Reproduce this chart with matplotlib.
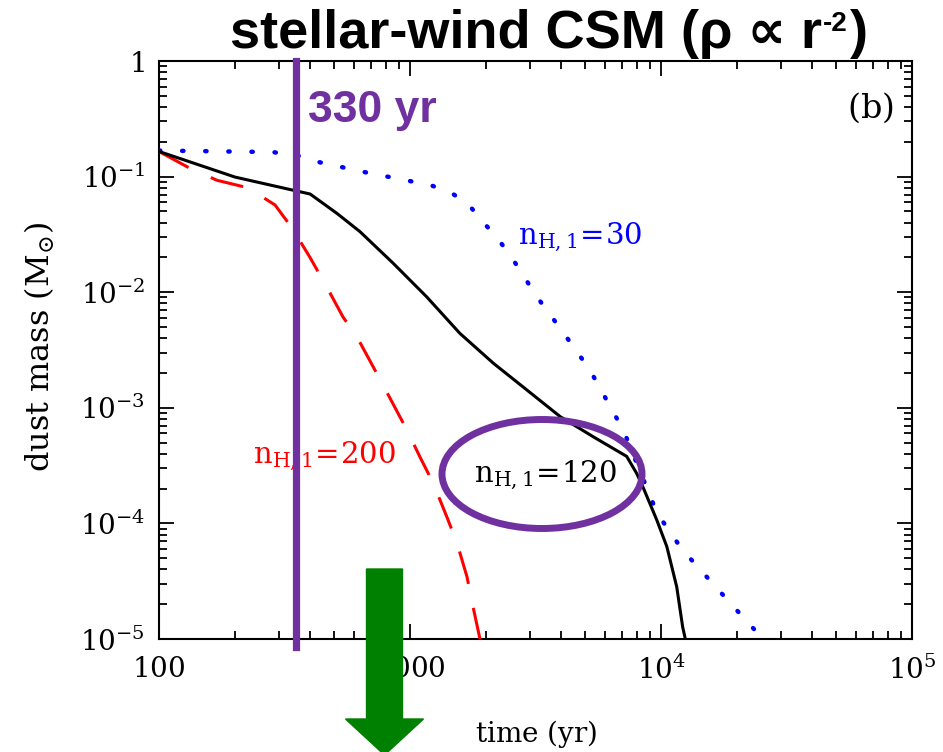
import matplotlib
matplotlib.use("Agg")
import matplotlib.pyplot as plt
from matplotlib.patches import Ellipse, FancyArrow
from matplotlib.ticker import LogLocator, NullFormatter

plt.rcParams['mathtext.fontset'] = 'dejavuserif'
plt.rcParams['font.family'] = ['DejaVu Serif']

# --- data (time in yr, dust mass in Msun) ---
t_30 = [100, 284, 361, 430, 650, 1203, 1443, 1703, 1955, 2244, 2549, 3206, 4073,
        5212, 7079, 9640, 12100, 16000, 21200, 25500]
m_30 = [0.168, 0.163, 0.151, 0.134, 0.11, 0.0845, 0.0736, 0.058, 0.0405, 0.0288,
        0.0198, 0.0091, 0.0045, 0.00212, 6.4e-4, 1.23e-4, 6.0e-5, 3.05e-5, 1.55e-5, 1.0e-5]

t_120 = [100, 201, 339, 400, 512, 632, 857, 1164, 1581, 2148, 2917, 3963, 5383,
         7298, 7998, 8470, 9620, 10550, 11550, 12200, 12500]
m_120 = [0.165, 0.099, 0.0766, 0.0707, 0.048, 0.0334, 0.0178, 0.00914, 0.0044,
         0.00243, 0.00143, 8.4e-4, 5.6e-4, 3.8e-4, 2.71e-4, 2.07e-4, 1.07e-4, 6.3e-5,
         2.83e-5, 1.27e-5, 1.0e-5]

t_200 = [100, 130, 170, 226, 290, 339, 400, 467, 541, 615, 773, 973, 1096, 1236,
         1404, 1538, 1687, 1783, 1900]
m_200 = [0.165, 0.121, 0.093, 0.080, 0.0568, 0.0359, 0.0199, 0.011, 0.0061, 0.0041,
         0.00164, 6.4e-4, 3.75e-4, 2.24e-4, 1.13e-4, 6.8e-5, 3.45e-5, 1.9e-5, 1.0e-5]

t_mark = 350          # "330 yr" line
x_ticks = [1e2, 1e3, 1e4, 1e5]
x_labels = [r'$100$', r'$1000$', r'$10^4$', r'$10^5$']
y_ticks = [1e-5, 1e-4, 1e-3, 1e-2, 1e-1, 1]
y_labels = [r'$10^{-5}$', r'$10^{-4}$', r'$10^{-3}$', r'$10^{-2}$', r'$10^{-1}$', r'$1$']

PURPLE = '#7030A0'
GREEN = '#008000'
W, H = 943, 752

fig = plt.figure(figsize=(W / 100, H / 100), dpi=100)
ax = fig.add_axes([159 / W, 1 - 639 / H, (912 - 159) / W, (639 - 61) / H])

ax.plot(t_30, m_30, color='blue', lw=3.2, linestyle=(0, (0.3, 4.9)),
        dash_capstyle='round', zorder=3)
ax.plot(t_200, m_200, color='red', lw=2.2, linestyle=(0, (11, 8)), zorder=3)
ax.plot(t_120, m_120, color='black', lw=2.2, zorder=4)

ax.set_xscale('log')
ax.set_yscale('log')
ax.set_xlim(1e2, 1e5)
ax.set_ylim(1e-5, 1)
ax.set_xticks(x_ticks, x_labels)
ax.set_yticks(y_ticks, y_labels)
ax.xaxis.set_minor_locator(LogLocator(subs=range(2, 10)))
ax.yaxis.set_minor_locator(LogLocator(subs=range(2, 10)))
ax.xaxis.set_minor_formatter(NullFormatter())
ax.yaxis.set_minor_formatter(NullFormatter())
ax.tick_params(which='both', direction='in', top=True, right=True, width=1.3,
               labelsize=20)
ax.tick_params(which='major', length=11)
ax.tick_params(which='minor', length=6)
ax.tick_params(axis='x', pad=12)
ax.tick_params(axis='y', pad=10)
for s in ax.spines.values():
    s.set_linewidth(1.5)

ax.set_xlabel(r'$\mathrm{time\ (yr)}$', fontsize=20)
ax.set_ylabel(r'$\mathrm{dust\ mass\ (M_{\odot})}$', fontsize=23)
ax.xaxis.set_label_coords(0.5, -0.137)
ax.yaxis.set_label_coords(-0.136, 0.505)

ax.text(0.975, 0.92, r'$\mathrm{(b)}$', transform=ax.transAxes, ha='right',
        va='center', fontsize=24)
ax.text(2692, 0.0261, r'$\mathrm{n_{H,1}\!=\!30}$', color='blue', fontsize=21,
        va='baseline')
ax.text(237, 3.33e-4, r'$\mathrm{n_{H,1}\!=\!200}$', color='red', fontsize=21,
        va='baseline')
ax.text(1800, 2.28e-4, r'$\mathrm{n_{H,1}\!=\!120}$', color='black', fontsize=21,
        va='baseline', zorder=6)

# purple marker line at 330 yr
ax.axvline(t_mark, ymin=-0.014, ymax=1, color=PURPLE, lw=5.2, clip_on=False, zorder=5)
fig.text(308 / W, 1 - 122 / H, '330 yr', color=PURPLE, fontsize=32, weight='bold',
         family=['Liberation Sans', 'DejaVu Sans'], va='baseline')

# ellipse around the n=120 label
fig.add_artist(Ellipse((5.42, (H - 474) / 100), 2.0, 1.09, transform=fig.dpi_scale_trans,
                       fill=False, ec=PURPLE, lw=5, zorder=7))

# green arrow
fig.add_artist(FancyArrow(3.845, (H - 569) / 100, 0, -(H - 569) / 100 - 0.03,
                          width=0.36, head_width=0.78, head_length=0.36,
                          length_includes_head=True, color=GREEN,
                          transform=fig.dpi_scale_trans, zorder=8))

# title, with superscript set by hand
tfont = dict(weight='bold', family=['Liberation Sans', 'DejaVu Sans'], va='baseline')
fig.text(822 / W, 1 - 48 / H, 'stellar-wind CSM (\u03c1 \u221d r', ha='right',
         fontsize=39, **tfont)
fig.text(823 / W, 1 - 31 / H, '-2', ha='left', fontsize=20, **tfont)
fig.text(850 / W, 1 - 48 / H, ')', ha='left', fontsize=39, **tfont)

fig.savefig('out.png', dpi=100)
